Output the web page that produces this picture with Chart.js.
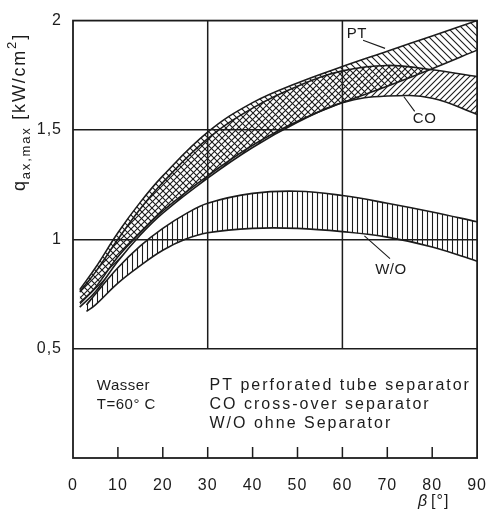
<!DOCTYPE html>
<html>
<head>
<meta charset="utf-8">
<script src="https://cdn.jsdelivr.net/npm/chart.js@4.4.1/dist/chart.umd.min.js"></script>
<style>
  body { margin: 0; background: #fff; }
  #wrap { width: 496px; height: 513px; }
</style>
</head>
<body>
<div id="wrap"><canvas id="chart"></canvas></div>
<script>
// beta [deg] and q_ax,max [kW/cm2]
const betaSep  = [1.5, 5, 10, 15, 20, 30, 40, 50, 60, 70, 80, 90];
const ptTop    = [0.77, 0.87, 1.03, 1.17, 1.29, 1.49, 1.625, 1.715, 1.79, 1.86, 1.93, 2.00];
const ptBottom = [0.71, 0.78, 0.92, 1.03, 1.13, 1.29, 1.43, 1.54, 1.625, 1.70, 1.78, 1.865];
const coTop    = [0.76, 0.85, 1.00, 1.14, 1.26, 1.46, 1.60, 1.70, 1.77, 1.795, 1.775, 1.744];
const coBottom = [0.69, 0.76, 0.90, 1.02, 1.12, 1.28, 1.42, 1.535, 1.625, 1.655, 1.645, 1.571];

const betaWo   = [3, 5, 10, 15, 20, 25, 30, 40, 50, 60, 70, 80, 90];
const woTop    = [0.70, 0.75, 0.87, 0.97, 1.05, 1.115, 1.165, 1.21, 1.22, 1.20, 1.165, 1.125, 1.08];
const woBottom = [0.67, 0.70, 0.80, 0.88, 0.95, 1.00, 1.03, 1.05, 1.05, 1.035, 1.01, 0.965, 0.90];

const xTicks = [0, 10, 20, 30, 40, 50, 60, 70, 80, 90];
const yTicks = [0.5, 1, 1.5, 2];
const xGrid = [30, 60];
const mediumText = ['Wasser', 'T=60° C'];
const keyText = ['PT perforated tube separator', 'CO cross-over separator', 'W/O ohne Separator'];

const ink = '#1c1c1c';

function hatch(kind, size) {
  const c = document.createElement('canvas');
  c.width = size; c.height = size;
  const g = c.getContext('2d');
  g.strokeStyle = ink;
  g.lineWidth = 1.1;
  g.beginPath();
  if (kind === 'v') {
    g.moveTo(size / 2, 0); g.lineTo(size / 2, size);
  } else if (kind === '/') {
    g.moveTo(-1, size + 1); g.lineTo(size + 1, -1);
    g.moveTo(-1, 1); g.lineTo(1, -1);
    g.moveTo(size - 1, size + 1); g.lineTo(size + 1, size - 1);
  } else {
    g.moveTo(-1, -1); g.lineTo(size + 1, size + 1);
    g.moveTo(size - 1, -1); g.lineTo(size + 1, 1);
    g.moveTo(-1, size - 1); g.lineTo(1, size + 1);
  }
  g.stroke();
  return g.createPattern(c, 'repeat');
}

function pts(xs, ys) {
  return xs.map((x, i) => ({ x: x, y: ys[i] }));
}

function curve(label, xs, ys, fill, pattern) {
  return {
    label: label,
    data: pts(xs, ys),
    borderColor: ink,
    borderWidth: 1.6,
    pointRadius: 0,
    tension: 0.4,
    fill: fill,
    backgroundColor: pattern || 'transparent'
  };
}

const plate = {
  id: 'plate',
  beforeDraw(chart) {
    const ctx = chart.ctx;
    ctx.save();
    ctx.fillStyle = '#fff';
    ctx.fillRect(0, 0, chart.width, chart.height);
    ctx.restore();
    ctx.letterSpacing = '1px';
  },
  afterDatasetsDraw(chart) {
    const ctx = chart.ctx;
    const a = chart.chartArea;
    const xs = chart.scales.x, ys = chart.scales.y;
    ctx.save();
    ctx.strokeStyle = ink;
    ctx.lineWidth = 1.5;
    ctx.beginPath();
    xGrid.forEach(v => {
      const px = xs.getPixelForValue(v);
      ctx.moveTo(px, ys.getPixelForValue(0.5));
      ctx.lineTo(px, a.top);
    });
    xTicks.slice(1, -1).forEach(v => {
      const px = xs.getPixelForValue(v);
      ctx.moveTo(px, a.bottom);
      ctx.lineTo(px, a.bottom - 11);
    });
    ctx.stroke();
    ctx.lineWidth = 1.8;
    ctx.strokeRect(a.left, a.top, a.right - a.left, a.bottom - a.top);
    ctx.restore();
  },
  afterDraw(chart) {
    const ctx = chart.ctx;
    const a = chart.chartArea;
    const xs = chart.scales.x, ys = chart.scales.y;
    const X = v => xs.getPixelForValue(v), Y = v => ys.getPixelForValue(v);
    ctx.save();
    ctx.fillStyle = ink;
    ctx.strokeStyle = ink;
    ctx.lineWidth = 1.1;
    ctx.textBaseline = 'middle';

    // curve labels with leader lines
    ctx.font = '15px "Liberation Sans"';
    ctx.letterSpacing = '0.5px';
    ctx.textAlign = 'center';
    ctx.fillText('PT', X(63.2), Y(1.94));
    ctx.fillText('CO', X(78.3), Y(1.55));
    ctx.fillText('W/O', X(70.8), Y(0.862));
    ctx.beginPath();
    ctx.moveTo(X(64.6), Y(1.91)); ctx.lineTo(X(69.5), Y(1.873));
    ctx.moveTo(X(73.7), Y(1.652)); ctx.lineTo(X(76.1), Y(1.585));
    ctx.moveTo(X(64.9), Y(1.016)); ctx.lineTo(X(70.6), Y(0.912));
    ctx.stroke();

    // key in the lower box
    ctx.textAlign = 'left';
    ctx.font = '15px "Liberation Sans"';
    ctx.letterSpacing = '0.5px';
    mediumText.forEach((t, i) => ctx.fillText(t, X(5.3), Y(0.33) + i * 19));
    ctx.font = '16px "Liberation Sans"';
    ctx.letterSpacing = '2px';
    keyText.forEach((t, i) => ctx.fillText(t, X(30.4), Y(0.33) + i * 19));

    // x title
    ctx.letterSpacing = '1px';
    ctx.textAlign = 'left';
    ctx.font = 'italic 16px "Liberation Sans"';
    ctx.fillText('β', a.right - 59, 502);
    ctx.font = '16px "Liberation Sans"';
    ctx.fillText('[°]', a.right - 46, 502);

    // y title, rotated, with sub- and superscript
    ctx.translate(25, 191);
    ctx.rotate(-Math.PI / 2);
    ctx.textBaseline = 'alphabetic';
    let x = 0;
    const part = (t, size, dy) => {
      ctx.font = size + 'px "Liberation Sans"';
      ctx.fillText(t, x, dy);
      x += ctx.measureText(t).width;
    };
    ctx.letterSpacing = '1.8px';
    part('q', 18, 0);
    part('ax,max', 13, 5);
    part(' [kW/cm', 18, 0);
    part('2', 13, -9);
    part(']', 18, 0);
    ctx.restore();
  }
};

new Chart(document.getElementById('chart'), {
  type: 'line',
  data: {
    datasets: [
      curve('PT top', betaSep, ptTop, '+1', hatch('\\', 7)),
      curve('PT bottom', betaSep, ptBottom, false),
      curve('CO top', betaSep, coTop, '+1', hatch('/', 6)),
      curve('CO bottom', betaSep, coBottom, false),
      curve('W/O top', betaWo, woTop, '+1', hatch('v', 5)),
      curve('W/O bottom', betaWo, woBottom, false)
    ]
  },
  options: {
    responsive: true,
    maintainAspectRatio: false,
    animation: false,
    layout: { padding: { top: 15, right: 15, left: 0, bottom: 0 } },
    plugins: { legend: { display: false }, tooltip: { enabled: false } },
    scales: {
      x: {
        type: 'linear',
        min: 0, max: 90,
        afterBuildTicks: s => { s.ticks = xTicks.map(v => ({ value: v })); },
        afterFit: s => { s.height = 55; },
        grid: { display: false },
        border: { display: false },
        ticks: { color: ink, padding: 10, maxRotation: 0, font: { family: 'Liberation Sans', size: 16 } }
      },
      y: {
        min: 0, max: 2,
        afterBuildTicks: s => { s.ticks = [0].concat(yTicks).map(v => ({ value: v })); },
        afterFit: s => { s.width = 73; },
        grid: {
          drawTicks: false,
          lineWidth: 1.5,
          color: c => (yTicks.includes(c.tick.value) && c.tick.value < 2) ? ink : 'transparent'
        },
        border: { display: false },
        ticks: {
          color: ink,
          padding: 11,
          font: { family: 'Liberation Sans', size: 16 },
          callback: v => v === 0 ? '' : String(v).replace('.', ',')
        }
      }
    }
  },
  plugins: [plate]
});
</script>
</body>
</html>
